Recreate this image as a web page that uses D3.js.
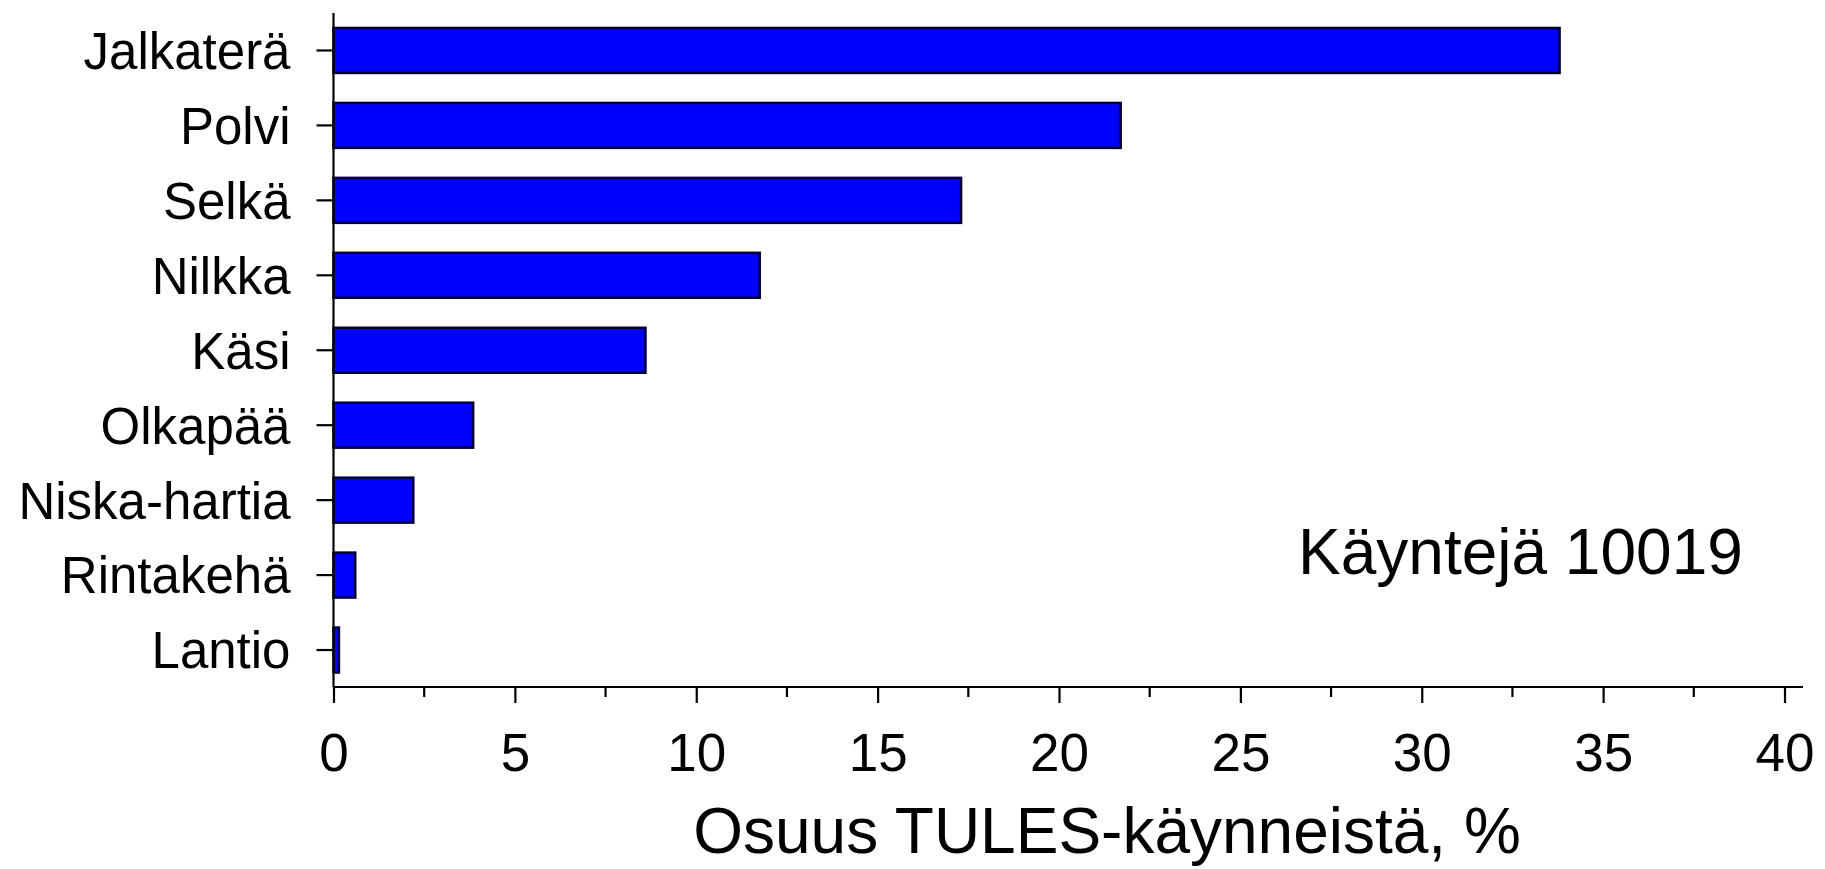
<!DOCTYPE html>
<html>
<head>
<meta charset="utf-8">
<script src="https://cdn.jsdelivr.net/npm/d3@7"></script>
<style>
  html, body { margin: 0; padding: 0; background: #fff; }
  svg { display: block; font-family: "Liberation Sans", Arial, sans-serif; }
</style>
</head>
<body>
<div id="chart"></div>
<script>
const categories = ["Jalkaterä", "Polvi", "Selkä", "Nilkka", "Käsi", "Olkapää", "Niska-hartia", "Rintakehä", "Lantio"];
const values = [33.8, 21.7, 17.3, 11.75, 8.6, 3.85, 2.2, 0.6, 0.15];
const majorTicks = [0, 5, 10, 15, 20, 25, 30, 35, 40];
const minorTicks = [2.5, 7.5, 12.5, 17.5, 22.5, 27.5, 32.5, 37.5];
const xTitle = "Osuus TULES-käynneistä, %";
const note = "Käyntejä 10019";

const width = 1825,
  height = 869;

const svg = d3.select("#chart").append("svg")
  .attr("width", width)
  .attr("height", height);

const x = d3.scaleLinear().domain([0, 40]).range([333.5, 1784.5]);
const y = d3.scaleBand().domain(categories).range([13, 687.5])
  .paddingInner(0.4).paddingOuter(0.2);

// bars
svg.append("g")
  .selectAll("rect")
  .data(categories)
  .enter().append("rect")
  .attr("x", x(0))
  .attr("y", (d) => y(d))
  .attr("width", (d, i) => x(values[i]) - x(0))
  .attr("height", y.bandwidth())
  .attr("fill", "#0000ff")
  .attr("stroke", "#000033")
  .attr("stroke-width", 2.5);

/* y axis: line, outward ticks, labels */
const yAxis = svg.append("g")
  .attr("transform", `translate(${x(0)},0)`)
  .call(d3.axisLeft(y).tickSize(17).tickPadding(26).tickSizeOuter(0));
yAxis.select(".domain").attr("d", `M0,13V687`).attr("stroke-width", 2.2);
yAxis.selectAll(".tick line").attr("stroke-width", 2.2);
yAxis.selectAll("text")
  .style("font-size", "51px")
  .attr("fill", "#000")
  .attr("dy", "0.36em");

/* x axis: major ticks with labels, minor ticks without */
const xAxis = svg.append("g")
  .attr("transform", "translate(0,687)")
  .call(d3.axisBottom(x).tickValues(majorTicks).tickSize(16).tickPadding(30).tickSizeOuter(0));
xAxis.select(".domain").attr("d", `M${x(0)},0H1803`).attr("stroke-width", 2.2);
xAxis.selectAll(".tick line").attr("stroke-width", 2.2);
xAxis.selectAll("text")
  .style("font-size", "53px")
  .attr("fill", "#000");

svg.append("g")
  .attr("transform", "translate(0,687)")
  .selectAll("line")
  .data(minorTicks)
  .enter().append("line")
  .attr("x1", (d) => x(d))
  .attr("x2", (d) => x(d))
  .attr("y1", 0)
  .attr("y2", 10)
  .attr("stroke", "#000")
  .attr("stroke-width", 2.2);

// axis title
svg.append("text")
  .attr("x", 1107)
  .attr("y", 853)
  .attr("text-anchor", "middle")
  .style("font-size", "64px")
  .text(xTitle);

// annotation
svg.append("text")
  .attr("x", 1298)
  .attr("y", 574)
  .style("font-size", "64px")
  .text(note);
</script>
</body>
</html>
